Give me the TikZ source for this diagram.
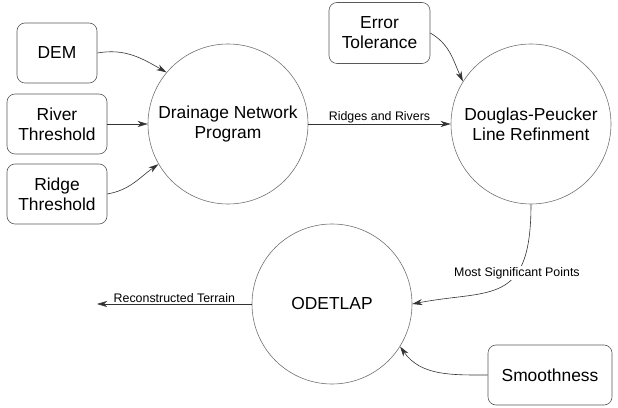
\documentclass[tikz,border=0pt]{standalone}
\usepackage{fontspec}
\setmainfont{Liberation Sans}
\usetikzlibrary{arrows.meta}
\usetikzlibrary{positioning}

\tikzset{
  process/.style={draw=black!55, circle, minimum size=160pt, inner sep=0pt,
    align=center, font=\fontsize{17.4}{20}\selectfont},
  inputbox/.style={draw=black!65, rounded corners=8pt, minimum height=60pt,
    inner sep=0pt, align=center, font=\fontsize{17.4}{20}\selectfont},
  flow/.style={draw=black!80, line width=0.6pt,
    -{Stealth[length=10pt, width=6pt, inset=3pt]}},
  flowlabel/.style={font=\fontsize{12.4}{14}\selectfont, inner sep=1pt}
}

\begin{document}
\begin{tikzpicture}[x=1pt, y=1pt, line width=0.6pt]
      \useasboundingbox (0, 0) rectangle (618, 407);

      \node[inputbox, minimum width=80pt] (dem) at (57, 354) {DEM};
      \node[inputbox, minimum width=100pt] (river) at (57, 283) {River\\Threshold};
      \node[inputbox, minimum width=100pt] (ridge) at (57, 213) {Ridge\\Threshold};

      \node[process] (drain) at (228, 283) {Drainage Network\\Program};
      \node[process] (doug) at (531, 283) {Douglas-Peucker\\Line Refinment};
      \node[inputbox, minimum width=101pt, minimum height=61pt] (err) at (379.5, 374) {Error\\Tolerance};

      \node[process] (odet) at (332, 103) {ODETLAP};
      \node[inputbox, minimum width=124pt] (smooth) at (550, 32) {Smoothness};
      \coordinate (terrain) at (97, 103);

      \draw[flow] (dem.east) to[out=10, in=150] (drain.140);
      \draw[flow] (river.east) -- (drain.west);
      \draw[flow] (ridge.east) to[out=10, in=215] (drain.210);
      \draw[flow] (drain.east) -- node[flowlabel, above] {Ridges and Rivers} (doug.west);
      \draw[flow] (err.east) to[out=-30, in=115] (doug.148);
      \draw[flow] (doug.south) .. controls (531, 100) and (490, 118) ..
        node[flowlabel, pos=0.34, fill=white] {Most Significant Points} (odet.east);
      \draw[flow] (odet.west) -- node[flowlabel, above] {Reconstructed Terrain} (terrain);
      \draw[flow] (smooth.west) to[out=180, in=-55] (odet.-32);
    \end{tikzpicture}
\end{document}
